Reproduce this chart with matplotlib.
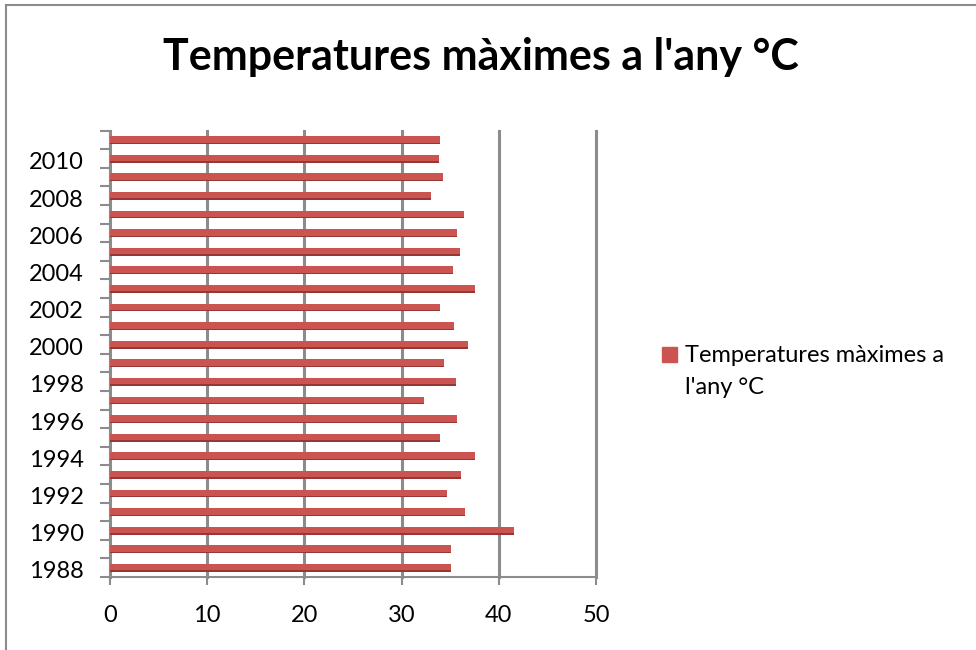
import numpy as np
import matplotlib
matplotlib.use("Agg")
import matplotlib.pyplot as plt
from matplotlib.patches import Rectangle

plt.rcParams["font.family"] = ["Lato", "DejaVu Sans"]

# Annual maximum temperature (°C), 1988-2011
years = list(range(1988, 2012))
temps = [35.1, 35.1, 41.6, 36.5, 34.7, 36.1, 37.5, 34.0, 35.7, 32.3, 35.6, 34.4,
         36.8, 35.4, 34.0, 37.5, 35.3, 36.0, 35.7, 36.4, 33.0, 34.3, 33.8, 34.0]
x_ticks = [0, 10, 20, 30, 40, 50]
title = "Temperatures màximes a l'any °C"
series_label = ["Temperatures màximes a", "l'any °C"]

BAR_COLOR = "#CB5450"
BAR_SHADE = "#953734"
GRID_GRAY = "#8C8C8C"
W, H = 976, 650

fig = plt.figure(figsize=(W / 100, H / 100), dpi=100)
ax = fig.add_axes([110 / W, 1 - 577 / H, 486 / W, (577 - 130.7) / H])

ypos = np.arange(len(years))
# bar body plus a darker lower edge for a bit of depth
ax.barh(ypos + 0.02, temps, height=0.36, color=BAR_COLOR, zorder=3)
ax.barh(ypos - 0.18, temps, height=0.08, color=BAR_SHADE, zorder=3.1)

for x in x_ticks:
    ax.axvline(x, color=GRID_GRAY, lw=2.2, zorder=1, clip_on=False)

ax.set_xlim(0, 50)
ax.set_ylim(-0.5, len(years) - 0.5)

for side in ("top", "right"):
    ax.spines[side].set_visible(False)
ax.spines["left"].set_color(GRID_GRAY)
ax.spines["bottom"].set_color(GRID_GRAY)
ax.spines["left"].set_linewidth(1.5)
ax.spines["bottom"].set_linewidth(1.5)

ax.set_xticks(x_ticks)
ax.tick_params(axis="x", length=6, width=1.5, color=GRID_GRAY, pad=14,
               labelsize=17)

# tick marks between categories, labels on every other year
ax.set_yticks(np.arange(-0.5, len(years), 1))
ax.set_yticklabels([])
ax.tick_params(axis="y", which="major", length=7, width=1.5, color=GRID_GRAY)
ax.set_yticks(ypos[::2] - 0.12, [str(y) for y in years[::2]], minor=True)
ax.tick_params(axis="y", which="minor", length=0, pad=19, labelsize=17)

fig.text(481 / W, 1 - 70 / H, title, ha="center", va="baseline",
         fontsize=31, fontweight="bold")

# legend
fig.add_artist(Rectangle((662 / W, 1 - 362 / H), 15 / W, 15 / H,
                         transform=fig.transFigure, color=BAR_COLOR))
fig.text(685 / W, 1 - 362 / H, series_label[0], ha="left",
         va="baseline", fontsize=17)
fig.text(685 / W, 1 - 394 / H, series_label[1], ha="left",
         va="baseline", fontsize=17)

# chart border
fig.add_artist(Rectangle((6 / W, -0.02), 1.0, 1.02 - 5 / H,
                         transform=fig.transFigure, fill=False,
                         edgecolor=GRID_GRAY, lw=1.5))

fig.savefig("out.png", dpi=100)
